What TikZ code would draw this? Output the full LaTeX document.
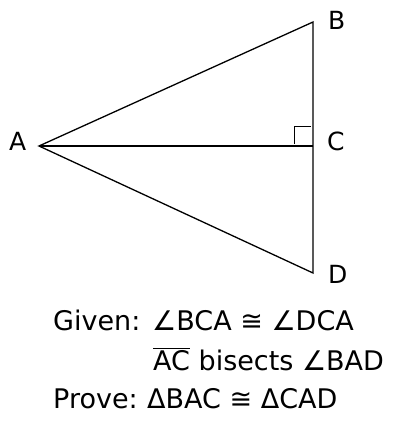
\documentclass[tikz,border=0pt]{standalone}
\usepackage{fontspec}
\setmainfont{DejaVu Sans}
\usetikzlibrary{calc}

\begin{document}
\begin{tikzpicture}[x=1pt,y=-1pt,
  every node/.style={inner sep=0pt, anchor=base west, font=\fontsize{25}{30}\selectfont},
  statement/.style={font=\fontsize{27}{32}\selectfont},
  side/.style={line width=1.3pt},
  rightmark/.style={line width=1pt}]
  \useasboundingbox (0,0) rectangle (396,422);
  % vertices
  \coordinate (A) at (39,146);
  \coordinate (B) at (313,22);
  \coordinate (C) at (313,146);
  \coordinate (D) at (313,273);
  \draw[side] (A) -- (B) -- (D) -- cycle;
  \draw[side] (A) -- (C);
  \draw[rightmark] ($(C)+(-19,-2)$) -- ($(C)+(-19,-19)$) -- ($(C)+(-2,-19)$);
  % labels
  \node (la) at (9,150) {A};
  \node (lb) at (328,30) {B};
  \node (lc) at (327,150) {C};
  \node (ld) at (328,283) {D};
  % given / prove
  \node[statement] (given) at (53,330) {Given:};
  \node[statement] (gtext) at (152,330) {∠BCA ≅ ∠DCA};
  \node[statement] (bisect) at (153,370) {$\overline{\hbox{AC}}$ bisects ∠BAD};
  \node[statement] (prove) at (53,408) {Prove:};
  \node[statement] (ptext) at (147,408) {ΔBAC ≅ ΔCAD};
\end{tikzpicture}
\end{document}
